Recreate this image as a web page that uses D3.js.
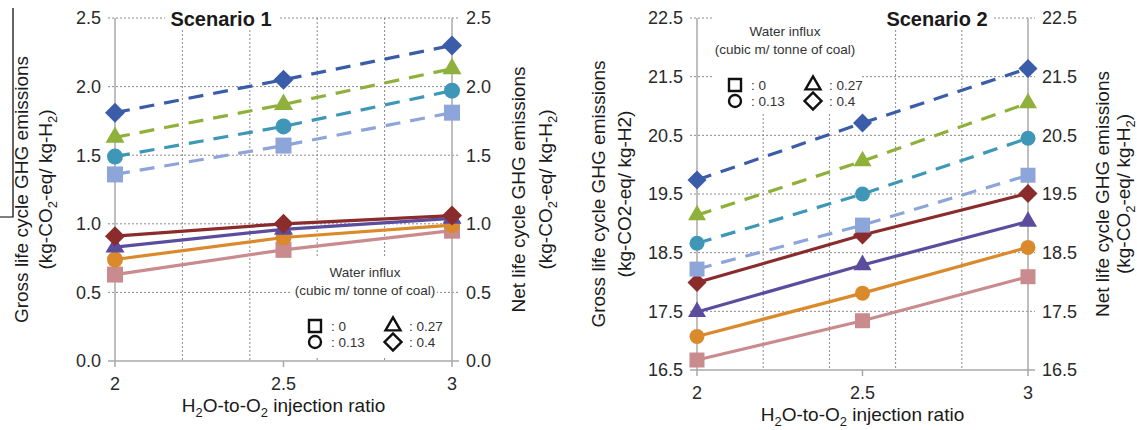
<!DOCTYPE html>
<html>
<head>
<meta charset="utf-8">
<script src="https://cdn.jsdelivr.net/npm/d3@7"></script>
<style>
  body { margin: 0; background: #fff; }
  svg { font-family: "Liberation Sans", Arial, sans-serif; }
</style>
</head>
<body>
<div id="chart"></div>
<script>
// injection ratios on the x axis
var ratio = [2, 2.5, 3];
var ratioTicks = [2, 2.5, 3];
var minorTicks = [2.2, 2.4, 2.6, 2.8];

// water influx legend (cubic m / tonne of coal)
var influx = ["0", "0.13", "0.27", "0.4"];
var shapes = ["square", "circle", "triangle", "diamond"];
var grossColors = ["#8ea5d9", "#3e97b7", "#8fb13b", "#3b5ca8"];
var netColors = ["#c98b8e", "#da8a2b", "#5b4c9e", "#8a2c2c"];

// scenario 1, one row per influx value (ratio 2, 2.5, 3)
var s1Gross = [[1.36, 1.57, 1.81], [1.49, 1.71, 1.97], [1.63, 1.87, 2.13], [1.81, 2.05, 2.30]];
var s1Net = [[0.63, 0.81, 0.95], [0.74, 0.90, 0.99], [0.83, 0.96, 1.04], [0.91, 1.00, 1.06]];
var s1Ticks = [0, 0.5, 1, 1.5, 2, 2.5];

// scenario 2
var s2Gross = [[18.22, 18.97, 19.82], [18.66, 19.50, 20.45], [19.14, 20.06, 21.05], [19.74, 20.71, 21.64]];
var s2Net = [[16.67, 17.34, 18.09], [17.07, 17.81, 18.59], [17.49, 18.29, 19.03], [17.99, 18.80, 19.51]];
var s2Ticks = [16.5, 17.5, 18.5, 19.5, 20.5, 21.5, 22.5];

var svg = d3.select("#chart").append("svg")
    .attr("width", 1137)
    .attr("height", 430);

// stray frame line at the top left of the figure
svg.append("path")
    .attr("d", "M13,8V217H0")
    .attr("fill", "none")
    .attr("stroke", "#000")
    .attr("stroke-width", 1.2);

function symbolPath(shape, s) {
  if (shape == "square") return d3.symbol(d3.symbolSquare, s * s)();
  if (shape == "circle") return d3.symbol(d3.symbolCircle, Math.PI * s * s / 4)();
  if (shape == "triangle") return d3.symbol(d3.symbolTriangle, s * s * Math.sqrt(3) / 4)();
  return d3.symbol(d3.symbolSquare, s * s / 2)();
}

// text with subscript "2"s, parts: [text, isSub]
function richText(g, parts, size) {
  parts.forEach(function(p) {
    var t = g.append("tspan").text(p[0]);
    if (p[1]) {
      t.attr("font-size", size * 0.68).attr("dy", size * 0.28);
    } else if (t.node().previousSibling) {
      var prev = d3.select(t.node().previousSibling);
      if (prev.attr("font-size")) t.attr("dy", -size * 0.28);
    }
  });
}

function drawPanel(p) {
  var x = d3.scaleLinear().domain([2, 3]).range([p.x0, p.x1]);
  var y = d3.scaleLinear().domain(p.domain).range([p.yBot, p.yTop]);
  var g = svg.append("g");

  // dotted grid
  g.selectAll(".vgrid").data(minorTicks).enter().append("line")
      .attr("x1", function(d) { return x(d); })
      .attr("x2", function(d) { return x(d); })
      .attr("y1", p.yTop).attr("y2", p.yBot)
      .attr("stroke", "#8a8a8a").attr("stroke-dasharray", "2,2");
  g.selectAll(".hgrid").data(p.ticks.slice(1)).enter().append("line")
      .attr("x1", p.x0 - 7).attr("x2", p.x1 + 7)
      .attr("y1", function(d) { return y(d); })
      .attr("y2", function(d) { return y(d); })
      .attr("stroke", "#8a8a8a").attr("stroke-dasharray", "2,2");

  // solid axis frame
  g.append("line").attr("x1", p.x0 - 7).attr("x2", p.x1 + 7)
      .attr("y1", p.yBot).attr("y2", p.yBot)
      .attr("stroke", "#a8a8a8").attr("stroke-width", 1.5);
  [2, 3].forEach(function(v) {
    g.append("line").attr("x1", x(v)).attr("x2", x(v))
        .attr("y1", p.yTop).attr("y2", p.yBot + 6)
        .attr("stroke", "#a8a8a8").attr("stroke-width", 1.5);
  });
  g.append("line").attr("x1", x(2.5)).attr("x2", x(2.5))
      .attr("y1", p.yBot).attr("y2", p.yBot + 6)
      .attr("stroke", "#a8a8a8").attr("stroke-width", 1.5);

  // white boxes behind legend and title
  g.append("rect").attr("x", p.legBox[0]).attr("y", p.legBox[1])
      .attr("width", p.legBox[2]).attr("height", p.legBox[3]).attr("fill", "#fff");
  g.append("rect").attr("x", p.titleBox[0]).attr("y", p.titleBox[1])
      .attr("width", p.titleBox[2]).attr("height", p.titleBox[3]).attr("fill", "#fff");

  // tick labels
  g.selectAll(".yl").data(p.ticks).enter().append("text")
      .attr("x", p.x0 - 14).attr("y", function(d) { return y(d); })
      .attr("dy", "0.35em").attr("text-anchor", "end")
      .attr("font-size", 18).attr("fill", "#2a2a2a")
      .text(function(d) { return d.toFixed(1); });
  g.selectAll(".yr").data(p.ticks).enter().append("text")
      .attr("x", p.x1 + 14).attr("y", function(d) { return y(d); })
      .attr("dy", "0.35em").attr("text-anchor", "start")
      .attr("font-size", 18).attr("fill", "#2a2a2a")
      .text(function(d) { return d.toFixed(1); });
  g.selectAll(".xl").data(ratioTicks).enter().append("text")
      .attr("x", function(d) { return x(d); }).attr("y", p.yBot + 29)
      .attr("text-anchor", "middle").attr("font-size", 18).attr("fill", "#2a2a2a")
      .text(function(d) { return d; });

  // x title
  var xt = g.append("text").attr("x", (p.x0 + p.x1) / 2).attr("y", p.yBot + 51)
      .attr("text-anchor", "middle").attr("font-size", 19).attr("fill", "#1a1a1a");
  richText(xt, [["H", 0], ["2", 1], ["O-to-O", 0], ["2", 1], [" injection ratio", 0]], 19);

  // y titles
  function yTitle(cx, lines) {
    lines.forEach(function(parts, i) {
      var t = g.append("text")
          .attr("transform", "translate(" + cx[i] + "," + (p.yTop + p.yBot) / 2 + ") rotate(-90)")
          .attr("text-anchor", "middle").attr("dy", "0.35em")
          .attr("font-size", 19).attr("fill", "#1a1a1a");
      richText(t, parts, 19);
    });
  }
  yTitle(p.leftTitleX, [[["Gross life cycle GHG emissions", 0]], p.leftUnit]);
  yTitle(p.rightTitleX, [[["Net life cycle GHG emissions", 0]],
      [["(kg-CO", 0], ["2", 1], ["-eq/ kg-H", 0], ["2", 1], [")", 0]]]);

  // scenario title
  g.append("text").attr("x", p.titleX).attr("y", p.titleY)
      .attr("text-anchor", "middle").attr("font-size", 20).attr("font-weight", "bold")
      .attr("fill", "#1a1a1a").text(p.title);

  // series
  var line = d3.line()
      .x(function(d, i) { return x(ratio[i]); })
      .y(function(d) { return y(d); });

  function series(data, colors, dashed) {
    data.forEach(function(vals, k) {
      g.append("path").attr("d", line(vals))
          .attr("fill", "none").attr("stroke", colors[k]).attr("stroke-width", 3.2)
          .attr("stroke-dasharray", dashed ? "15,10" : null);
    });
    data.forEach(function(vals, k) {
      g.selectAll(null).data(vals).enter().append("path")
          .attr("d", symbolPath(shapes[k], p.mark[k]))
          .attr("transform", function(d, i) {
            return "translate(" + x(ratio[i]) + "," + y(d) + ")" + (shapes[k] == "diamond" ? " rotate(45)" : "");
          })
          .attr("fill", colors[k]);
    });
  }
  series(p.net, netColors, false);
  series(p.gross, grossColors, true);

  // legend
  var lg = g.append("g").attr("transform", "translate(" + p.legX + "," + p.legY + ")");
  lg.append("text").attr("x", 0).attr("y", 0).attr("text-anchor", "middle")
      .attr("font-size", 13.5).attr("fill", "#333").text("Water influx");
  lg.append("text").attr("x", 0).attr("y", 18).attr("text-anchor", "middle")
      .attr("font-size", 13.5).attr("fill", "#333").text("(cubic m/ tonne of coal)");
  influx.forEach(function(v, k) {
    var col = k == 0 || k == 1 ? 0 : 1;
    var row = k == 0 || k == 2 ? 0 : 1;
    var cx = -50 + col * 78, cy = 49 + row * 16;
    lg.append("path").attr("d", symbolPath(shapes[k], shapes[k] == "triangle" ? 15 : (shapes[k] == "diamond" ? 17 : 12)))
        .attr("transform", "translate(" + cx + "," + cy + ")" + (shapes[k] == "diamond" ? " rotate(45)" : ""))
        .attr("fill", "none").attr("stroke", "#111").attr("stroke-width", 2.4);
    lg.append("text").attr("x", cx + 16).attr("y", cy).attr("dy", "0.35em")
        .attr("font-size", 13.5).attr("fill", "#333").text(": " + v);
  });
}

drawPanel({
  x0: 115, x1: 452, yTop: 18, yBot: 361, domain: [0, 2.5], ticks: s1Ticks,
  gross: s1Gross, net: s1Net, mark: [16, 16, 19, 20],
  title: "Scenario 1", titleX: 221, titleY: 26, titleBox: [165, 4, 114, 26],
  leftTitleX: [21, 45], rightTitleX: [518, 545],
  leftUnit: [["(kg-CO", 0], ["2", 1], ["-eq/ kg-H", 0], ["2", 1], [")", 0]],
  legX: 365, legY: 277, legBox: [292, 258, 145, 98]
});

drawPanel({
  x0: 697, x1: 1028, yTop: 18, yBot: 370, domain: [16.5, 22.5], ticks: s2Ticks,
  gross: s2Gross, net: s2Net, mark: [15, 15, 18, 19],
  title: "Scenario 2", titleX: 937, titleY: 26, titleBox: [862, 4, 130, 26],
  leftTitleX: [598, 624], rightTitleX: [1102, 1123],
  leftUnit: [["(kg-CO2-eq/ kg-H2)", 0]],
  legX: 785, legY: 36, legBox: [712, 0, 148, 113]
});
</script>
</body>
</html>
